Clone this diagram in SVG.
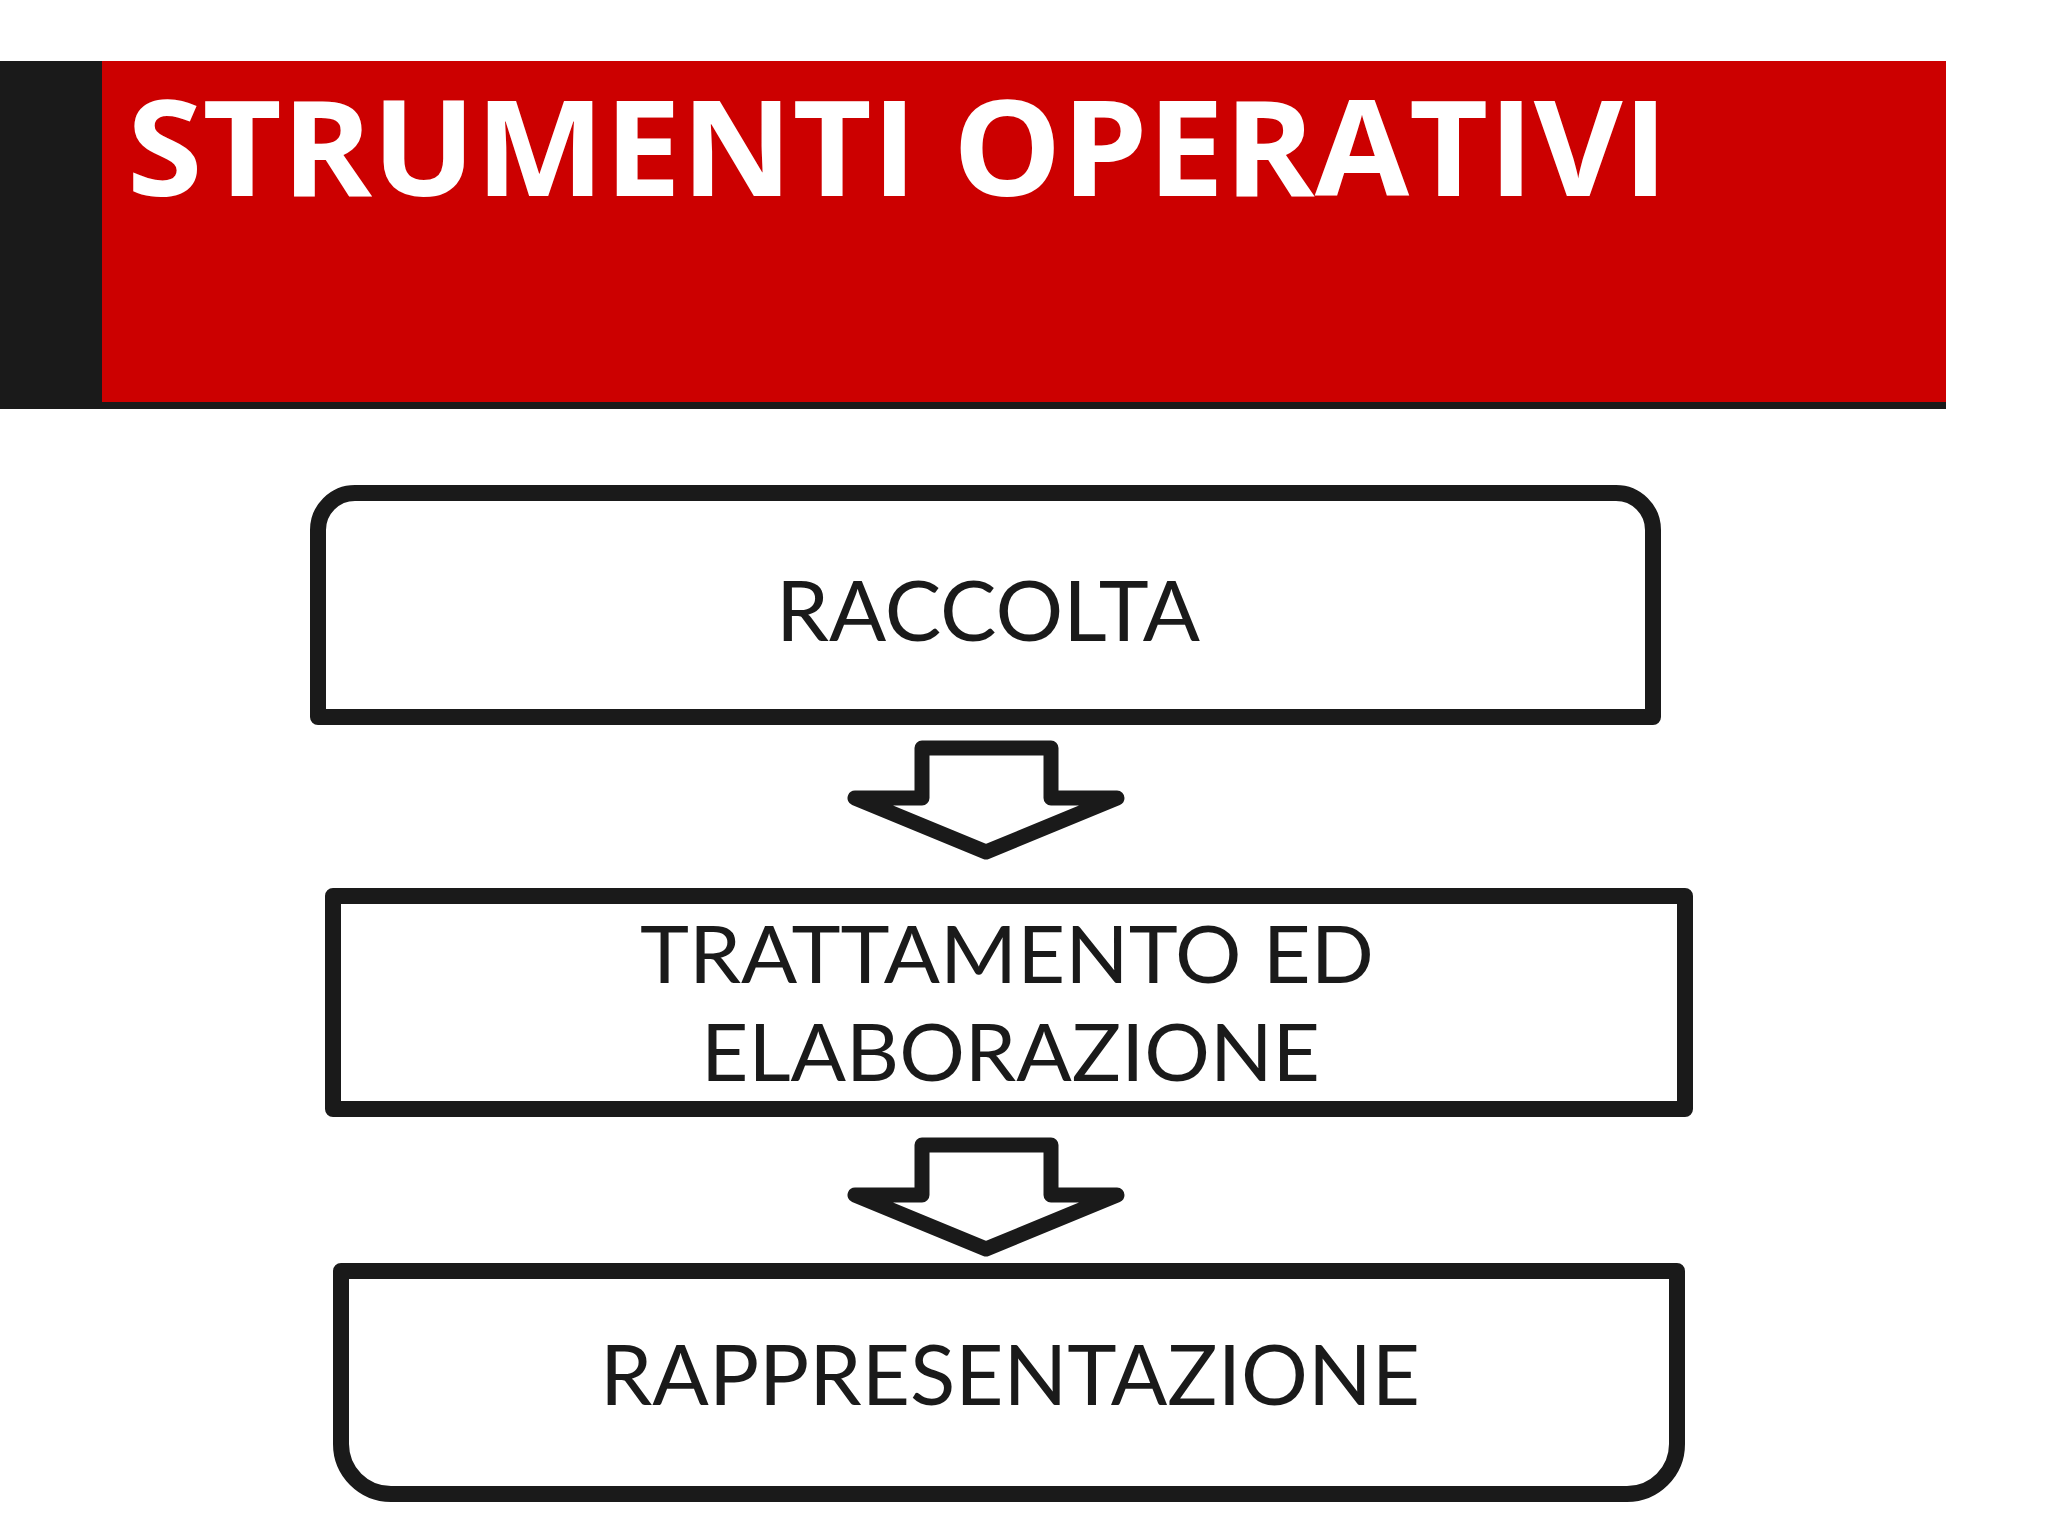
<svg xmlns="http://www.w3.org/2000/svg" width="2048" height="1536" viewBox="0 0 2048 1536">
<style>
.box{fill:#ffffff;stroke:#1a1a1a;stroke-width:16;stroke-linejoin:round}
.arrow{fill:#ffffff;stroke:#1a1a1a;stroke-width:15;stroke-linejoin:round}
.lbl{font-family:Lato,"Open Sans","Liberation Sans",sans-serif;font-size:83px;fill:#1a1a1a}
.lbl2{font-family:Lato,"Open Sans","Liberation Sans",sans-serif;font-size:79px;fill:#1a1a1a}
.title{font-family:"Open Sans","Liberation Sans",sans-serif;font-weight:700;font-size:133px;fill:#ffffff}
</style>
<rect width="2048" height="1536" fill="#ffffff"/>
<g id="header">
<rect x="0" y="61" width="102" height="348" fill="#1a1a1a"/>
<rect x="102" y="61" width="1844" height="341" fill="#cc0000"/>
<rect x="0" y="402" width="1946" height="7" fill="#1a1a1a"/>
<text class="title" x="127" y="196" textLength="1541" lengthAdjust="spacingAndGlyphs">STRUMENTI OPERATIVI</text>
</g>
<g id="node-raccolta">
<path class="box" d="M318 717 L318 530 A37 37 0 0 1 355 493 L1616 493 A37 37 0 0 1 1653 530 L1653 717 Z"/>
<text class="lbl" x="776" y="641" textLength="424" lengthAdjust="spacingAndGlyphs">RACCOLTA</text>
</g>
<g id="node-trattamento">
<rect class="box" x="333" y="896" width="1352" height="213"/>
<text class="lbl2" x="640" y="983" textLength="734" lengthAdjust="spacingAndGlyphs">TRATTAMENTO ED</text>
<text class="lbl2" x="701" y="1081" textLength="619" lengthAdjust="spacingAndGlyphs">ELABORAZIONE</text>
</g>
<g id="node-rappresentazione">
<path class="box" d="M341 1271 L1677 1271 L1677 1444 A50 50 0 0 1 1627 1494 L391 1494 A50 50 0 0 1 341 1444 Z"/>
<text class="lbl" x="600" y="1405" textLength="820" lengthAdjust="spacingAndGlyphs">RAPPRESENTAZIONE</text>
</g>
<g id="connectors">
<polygon class="arrow" points="922,748 1051,748 1051,798 1117,798 986,852 855,798 922,798"/>
<polygon class="arrow" points="922,1145 1051,1145 1051,1195 1117,1195 986,1249 855,1195 922,1195"/>
</g>
</svg>
